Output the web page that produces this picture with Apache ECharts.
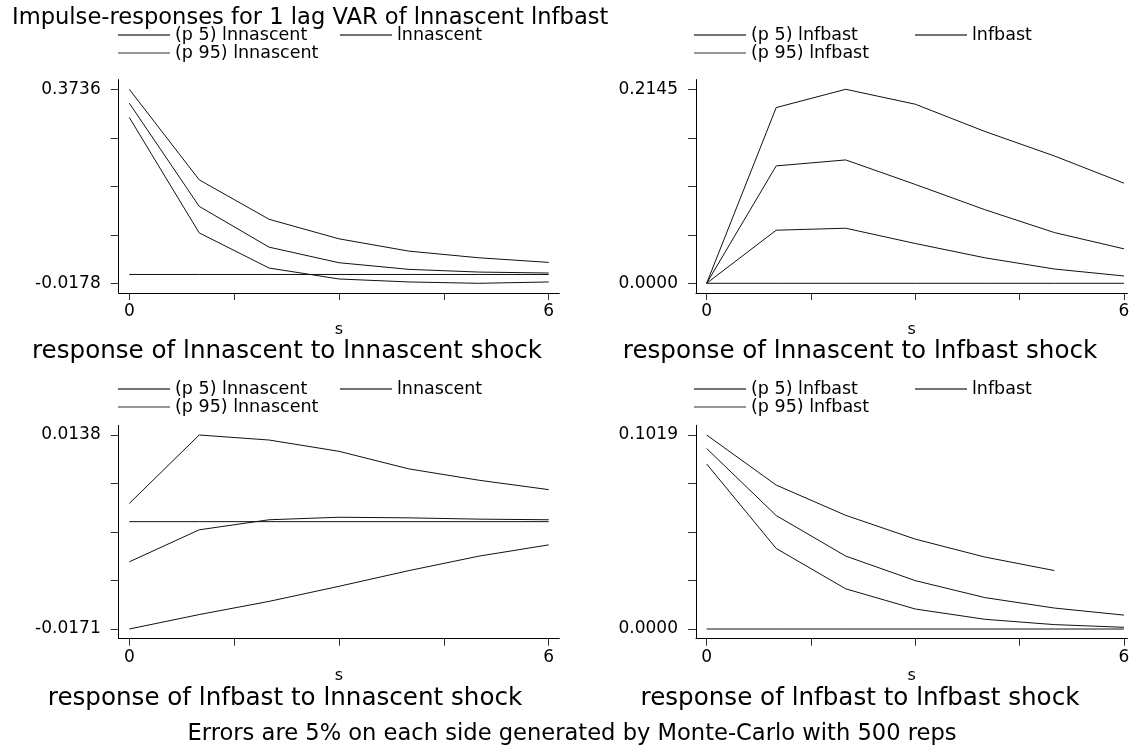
<!DOCTYPE html>
<html>
<head>
<meta charset="utf-8">
<script src="https://cdn.jsdelivr.net/npm/echarts@6/dist/echarts.min.js"></script>
<style>
html,body{margin:0;padding:0;background:#fff;}
#chart{width:1134px;height:754px;}
</style>
</head>
<body>
<div id="chart"></div>
<script>
// ---- data ----
const steps = [0, 1, 2, 3, 4, 5, 6];
const xTickValues = [0, 1.5, 3, 4.5, 6];
const xTickLabels = [0, 6];

// panel 1: response of lnnascent to lnnascent shock
const p1_p5  = [0.3167, 0.0839, 0.0130, -0.0091, -0.0151, -0.0178, -0.0151];
const p1_irf = [0.3455, 0.1374, 0.0551, 0.0237, 0.0103, 0.0049, 0.0029];
const p1_p95 = [0.3736, 0.1909, 0.1113, 0.0719, 0.0471, 0.0337, 0.0244];
const p1_yLabels = [-0.0178, 0.3736];

// panel 2: response of lnnascent to lnfbast shock
const p2_p5  = [0, 0.0587, 0.0609, 0.0440, 0.0282, 0.0158, 0.0081];
const p2_irf = [0, 0.1298, 0.1364, 0.1093, 0.0814, 0.0561, 0.0381];
const p2_p95 = [0, 0.1943, 0.2145, 0.1980, 0.1679, 0.1408, 0.1107];
const p2_yLabels = [0.0000, 0.2145];

// panel 3: response of lnfbast to lnnascent shock
const p3_p5  = [-0.0171, -0.0148, -0.0127, -0.0103, -0.0078, -0.0055, -0.0037];
const p3_irf = [-0.0064, -0.0013, 0.0003, 0.0007, 0.0006, 0.0004, 0.0003];
const p3_p95 = [0.0029, 0.0138, 0.0130, 0.0112, 0.0084, 0.0066, 0.0051];
const p3_yLabels = [-0.0171, 0.0138];

// panel 4: response of lnfbast to lnfbast shock
const p4_p5  = [0.0867, 0.0423, 0.0211, 0.0105, 0.0051, 0.0023, 0.0009];
const p4_irf = [0.0948, 0.0596, 0.0383, 0.0254, 0.0165, 0.0110, 0.0073];
const p4_p95 = [0.1019, 0.0756, 0.0597, 0.0472, 0.0378, 0.0307, null];
const p4_yLabels = [0.0000, 0.1019];

const zeroLine = [0, 0, 0, 0, 0, 0, 0];

const mainTitle = 'Impulse-responses for 1 lag VAR of lnnascent lnfbast';
const subTitles = [
  'response of lnnascent to lnnascent shock',
  'response of lnnascent to lnfbast shock',
  'response of lnfbast to lnnascent shock',
  'response of lnfbast to lnfbast shock'
];
const noteText = 'Errors are 5% on each side generated by Monte-Carlo with 500 reps';
const legendVars = ['lnnascent', 'lnfbast', 'lnnascent', 'lnfbast'];

// ---- build ----
const FONT = '"DejaVu Sans", "Liberation Sans", Arial, sans-serif';
const panels = [
  {p5: p1_p5, irf: p1_irf, p95: p1_p95, yl: p1_yLabels},
  {p5: p2_p5, irf: p2_irf, p95: p2_p95, yl: p2_yLabels},
  {p5: p3_p5, irf: p3_irf, p95: p3_p95, yl: p3_yLabels},
  {p5: p4_p5, irf: p4_irf, p95: p4_p95, yl: p4_yLabels}
];
const layout = [
  {left: 118.7, top: 79.6, width: 440.6, xmin: -0.152, xmax: 6.152, legL: 118, legR: 340, r1: 35, r2: 53, subX: 287, subTop: 339},
  {left: 696,   top: 79.6, width: 431.4, xmin: -0.153, xmax: 6.05,  legL: 694, legR: 915, r1: 35, r2: 53, subX: 860, subTop: 339},
  {left: 118.7, top: 425.3, width: 440.6, xmin: -0.152, xmax: 6.152, legL: 118, legR: 340, r1: 389, r2: 407, subX: 285, subTop: 686},
  {left: 696,   top: 425.3, width: 431.4, xmin: -0.153, xmax: 6.05,  legL: 694, legR: 915, r1: 389, r2: 407, subX: 860, subTop: 686}
];
const GH = 213.4;

const grid = [], xAxis = [], yAxis = [], series = [], legend = [], title = [];
title.push({text: mainTitle, left: 12, top: 7, padding: 0,
  textStyle: {fontFamily: FONT, fontSize: 22.6, fontWeight: 'normal', color: '#000'}});
title.push({text: noteText, left: 572, textAlign: 'center', top: 723, padding: 0,
  textStyle: {fontFamily: FONT, fontSize: 22.6, fontWeight: 'normal', color: '#000'}});

panels.forEach((p, i) => {
  const L = layout[i];
  grid.push({left: L.left, top: L.top, width: L.width, height: GH, containLabel: false});
  const lo = p.yl[0], hi = p.yl[1], r = hi - lo;
  const yTicks = [0, 1, 2, 3, 4].map(k => lo + r * k / 4);
  xAxis.push({
    type: 'value', gridIndex: i, min: L.xmin, max: L.xmax,
    name: 's', nameLocation: 'middle', nameGap: 29,
    nameTextStyle: {fontFamily: FONT, fontSize: 16, color: '#000'},
    axisLine: {show: true, onZero: false, lineStyle: {color: '#000', width: 1}},
    axisTick: {show: true, length: 7, customValues: xTickValues, lineStyle: {color: '#333'}},
    axisLabel: {customValues: xTickLabels, margin: 10, fontFamily: FONT, fontSize: 17, color: '#000',
      showMinLabel: true, showMaxLabel: true},
    splitLine: {show: false}
  });
  yAxis.push({
    type: 'value', gridIndex: i, min: lo - 0.05 * r, max: hi + 0.05 * r,
    axisLine: {show: true, onZero: false, lineStyle: {color: '#000', width: 1}},
    axisTick: {show: true, length: 8, customValues: yTicks, lineStyle: {color: '#333'}},
    axisLabel: {customValues: p.yl, margin: 18, fontFamily: FONT, fontSize: 17, color: '#000',
      formatter: v => v.toFixed(4)},
    splitLine: {show: false}
  });
  const v = legendVars[i];
  const names = ['(p 5) ' + v, v, '(p 95) ' + v];
  const arrs = [p.p5, p.irf, p.p95];
  arrs.forEach((arr, k) => {
    series.push({
      name: names[k], type: 'line', xAxisIndex: i, yAxisIndex: i,
      data: steps.map((s, j) => [s, arr[j]]),
      symbol: 'none', showSymbol: false, connectNulls: false, silent: true,
      lineStyle: {color: '#111', width: 1}, itemStyle: {color: '#111'}
    });
  });
  series.push({
    name: 'zero' + i, type: 'line', xAxisIndex: i, yAxisIndex: i,
    data: steps.map((s, j) => [s, zeroLine[j]]),
    symbol: 'none', showSymbol: false, silent: true,
    lineStyle: {color: '#111', width: 1}
  });
  const legBase = {
    orient: 'horizontal', padding: 0, itemWidth: 52, itemHeight: 1.5, itemGap: 0,
    selectedMode: false, icon: 'rect',
    textStyle: {fontFamily: FONT, fontSize: 17.5, color: '#000', lineHeight: 18}
  };
  legend.push(Object.assign({}, legBase, {data: [names[0]], left: L.legL, top: L.r1 - 9, itemStyle: {color: '#444'}}));
  legend.push(Object.assign({}, legBase, {data: [names[1]], left: L.legR, top: L.r1 - 9, itemStyle: {color: '#444'}}));
  legend.push(Object.assign({}, legBase, {data: [names[2]], left: L.legL, top: L.r2 - 9, itemStyle: {color: '#777'}}));
  title.push({text: subTitles[i], left: L.subX, textAlign: 'center', top: L.subTop, padding: 0,
    textStyle: {fontFamily: FONT, fontSize: 24.6, fontWeight: 'normal', color: '#000'}});
});

const chart = echarts.init(document.getElementById('chart'), null, {renderer: 'canvas'});
chart.setOption({
  backgroundColor: '#fff',
  animation: false,
  title: title,
  legend: legend,
  grid: grid,
  xAxis: xAxis,
  yAxis: yAxis,
  series: series
});
</script>
</body>
</html>
